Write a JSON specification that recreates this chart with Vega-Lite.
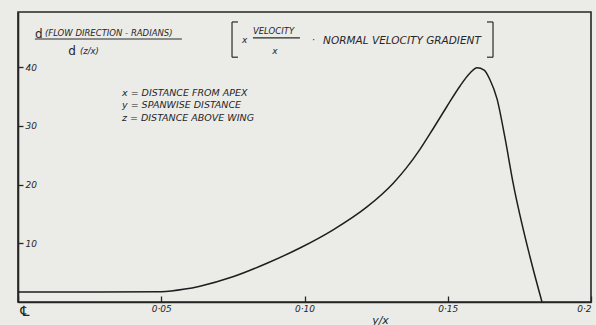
{
  "$schema": "https://vega.github.io/schema/vega-lite/v6.json",
  "width": 573,
  "height": 290,
  "autosize": {"type": "none"},
  "padding": {"left": 18, "top": 12, "right": 5, "bottom": 23},
  "background": "#ebebe8",
  "config": {
    "view": {"stroke": "#262626", "strokeWidth": 1.6},
    "font": "DejaVu Sans",
    "text": {"font": "DejaVu Sans", "fontStyle": "italic", "color": "#262626"}
  },
  "datasets": {
    "curve": [
      {"yx": 0, "v": 1.7},
      {"yx": 0.0286, "v": 1.7},
      {"yx": 0.05, "v": 1.75},
      {"yx": 0.0583, "v": 2.2},
      {"yx": 0.0635, "v": 2.7},
      {"yx": 0.075, "v": 4.3},
      {"yx": 0.0869, "v": 6.6},
      {"yx": 0.0984, "v": 9.2},
      {"yx": 0.11, "v": 12.3},
      {"yx": 0.1218, "v": 16.2},
      {"yx": 0.1309, "v": 20.2},
      {"yx": 0.1355, "v": 22.8},
      {"yx": 0.1403, "v": 26.0},
      {"yx": 0.145, "v": 29.6},
      {"yx": 0.1497, "v": 33.3},
      {"yx": 0.1543, "v": 36.8},
      {"yx": 0.1578, "v": 39.0},
      {"yx": 0.1602, "v": 39.9},
      {"yx": 0.1627, "v": 39.5},
      {"yx": 0.1647, "v": 37.9},
      {"yx": 0.1672, "v": 34.6},
      {"yx": 0.17, "v": 27.9},
      {"yx": 0.1728, "v": 20.3},
      {"yx": 0.1787, "v": 7.7},
      {"yx": 0.1829, "v": 0}
    ],
    "legendText": [
      {"x": 0.0363, "y": 35.6, "t": "x = DISTANCE FROM APEX"},
      {"x": 0.0363, "y": 33.6, "t": "y = SPANWISE DISTANCE"},
      {"x": 0.0363, "y": 31.3, "t": "z = DISTANCE ABOVE WING"}
    ],
    "gradText": [
      {"x": 0.1065, "y": 44.5, "t": "NORMAL VELOCITY GRADIENT"}
    ],
    "smallText": [
      {"x": 0.0094, "y": 45.8, "t": "(FLOW DIRECTION - RADIANS)"},
      {"x": 0.0216, "y": 42.8, "t": "(z/x)"},
      {"x": 0.082, "y": 46.2, "t": "VELOCITY"}
    ],
    "bigText": [
      {"x": 0.0059, "y": 45.6, "t": "d"},
      {"x": 0.0175, "y": 42.8, "t": "d"}
    ],
    "midText": [
      {"x": 0.0782, "y": 44.6, "t": "x"},
      {"x": 0.0887, "y": 42.7, "t": "x"},
      {"x": 0.1026, "y": 44.6, "t": "·"}
    ],
    "strokes": [
      {"x": 0.0059, "x2": 0.0572, "y": 44.8, "y2": 44.8},
      {"x": 0.082, "x2": 0.0984, "y": 45.0, "y2": 45.0},
      {"x": 0.0747, "x2": 0.0747, "y": 47.7, "y2": 41.7},
      {"x": 0.0747, "x2": 0.0768, "y": 47.7, "y2": 47.7},
      {"x": 0.0747, "x2": 0.0768, "y": 41.7, "y2": 41.7},
      {"x": 0.1658, "x2": 0.1658, "y": 47.7, "y2": 41.7},
      {"x": 0.1637, "x2": 0.1658, "y": 47.7, "y2": 47.7},
      {"x": 0.1637, "x2": 0.1658, "y": 41.7, "y2": 41.7}
    ]
  },
  "layer": [
    {
      "data": {"name": "curve"},
      "mark": {"type": "line", "interpolate": "monotone", "color": "#1e1e1e", "strokeWidth": 1.5},
      "encoding": {
        "x": {
          "field": "yx", "type": "quantitative",
          "scale": {"domain": [0, 0.2], "nice": false, "zero": false},
          "axis": {
            "title": "y/x",
            "titleX": 362, "titleY": 18, "titleBaseline": "middle",
            "titleFont": "DejaVu Sans", "titleFontStyle": "italic", "titleFontWeight": "normal",
            "titleFontSize": 11, "titleColor": "#262626",
            "values": [0, 0.05, 0.1, 0.15, 0.2],
            "labelExpr": "datum.value == 0 ? '℄' : datum.value == 0.05 ? '0·05' : datum.value == 0.1 ? '0·10' : datum.value == 0.15 ? '0·15' : '0·2'",
            "labelFlush": true,
            "labelFont": "DejaVu Sans", "labelFontStyle": "italic",
            "labelFontSize": {"condition": {"test": "datum.value == 0", "value": 14}, "value": 9},
            "labelColor": "#262626",
            "tickSize": -6, "tickColor": "#262626", "tickWidth": 1.3,
            "labelPadding": 8,
            "domain": true, "domainColor": "#262626", "domainWidth": 1.6,
            "grid": false
          }
        },
        "y": {
          "field": "v", "type": "quantitative",
          "scale": {"domain": [0, 49.4], "nice": false},
          "axis": {
            "title": null,
            "values": [10, 20, 30, 40],
            "labelAlign": "left",
            "labelFont": "DejaVu Sans", "labelFontStyle": "italic", "labelFontSize": 9, "labelColor": "#262626",
            "tickSize": -5, "tickColor": "#262626", "tickWidth": 1.3,
            "labelPadding": -2,
            "domain": true, "domainColor": "#262626", "domainWidth": 1.6,
            "grid": false
          }
        }
      }
    },
    {
      "data": {"name": "strokes"},
      "mark": {"type": "rule", "color": "#2a2a2a", "strokeWidth": 1.2},
      "encoding": {
        "x": {"field": "x", "type": "quantitative"},
        "x2": {"field": "x2"},
        "y": {"field": "y", "type": "quantitative"},
        "y2": {"field": "y2"}
      }
    },
    {
      "data": {"name": "legendText"},
      "mark": {"type": "text", "align": "left", "baseline": "middle", "fontSize": 9.5},
      "encoding": {
        "x": {"field": "x", "type": "quantitative"},
        "y": {"field": "y", "type": "quantitative"},
        "text": {"field": "t"}
      }
    },
    {
      "data": {"name": "gradText"},
      "mark": {"type": "text", "align": "left", "baseline": "middle", "fontSize": 10.5},
      "encoding": {
        "x": {"field": "x", "type": "quantitative"},
        "y": {"field": "y", "type": "quantitative"},
        "text": {"field": "t"}
      }
    },
    {
      "data": {"name": "smallText"},
      "mark": {"type": "text", "align": "left", "baseline": "middle", "fontSize": 8.5},
      "encoding": {
        "x": {"field": "x", "type": "quantitative"},
        "y": {"field": "y", "type": "quantitative"},
        "text": {"field": "t"}
      }
    },
    {
      "data": {"name": "bigText"},
      "mark": {"type": "text", "align": "left", "baseline": "middle", "fontSize": 12, "fontStyle": "normal"},
      "encoding": {
        "x": {"field": "x", "type": "quantitative"},
        "y": {"field": "y", "type": "quantitative"},
        "text": {"field": "t"}
      }
    },
    {
      "data": {"name": "midText"},
      "mark": {"type": "text", "align": "left", "baseline": "middle", "fontSize": 9},
      "encoding": {
        "x": {"field": "x", "type": "quantitative"},
        "y": {"field": "y", "type": "quantitative"},
        "text": {"field": "t"}
      }
    }
  ]
}
